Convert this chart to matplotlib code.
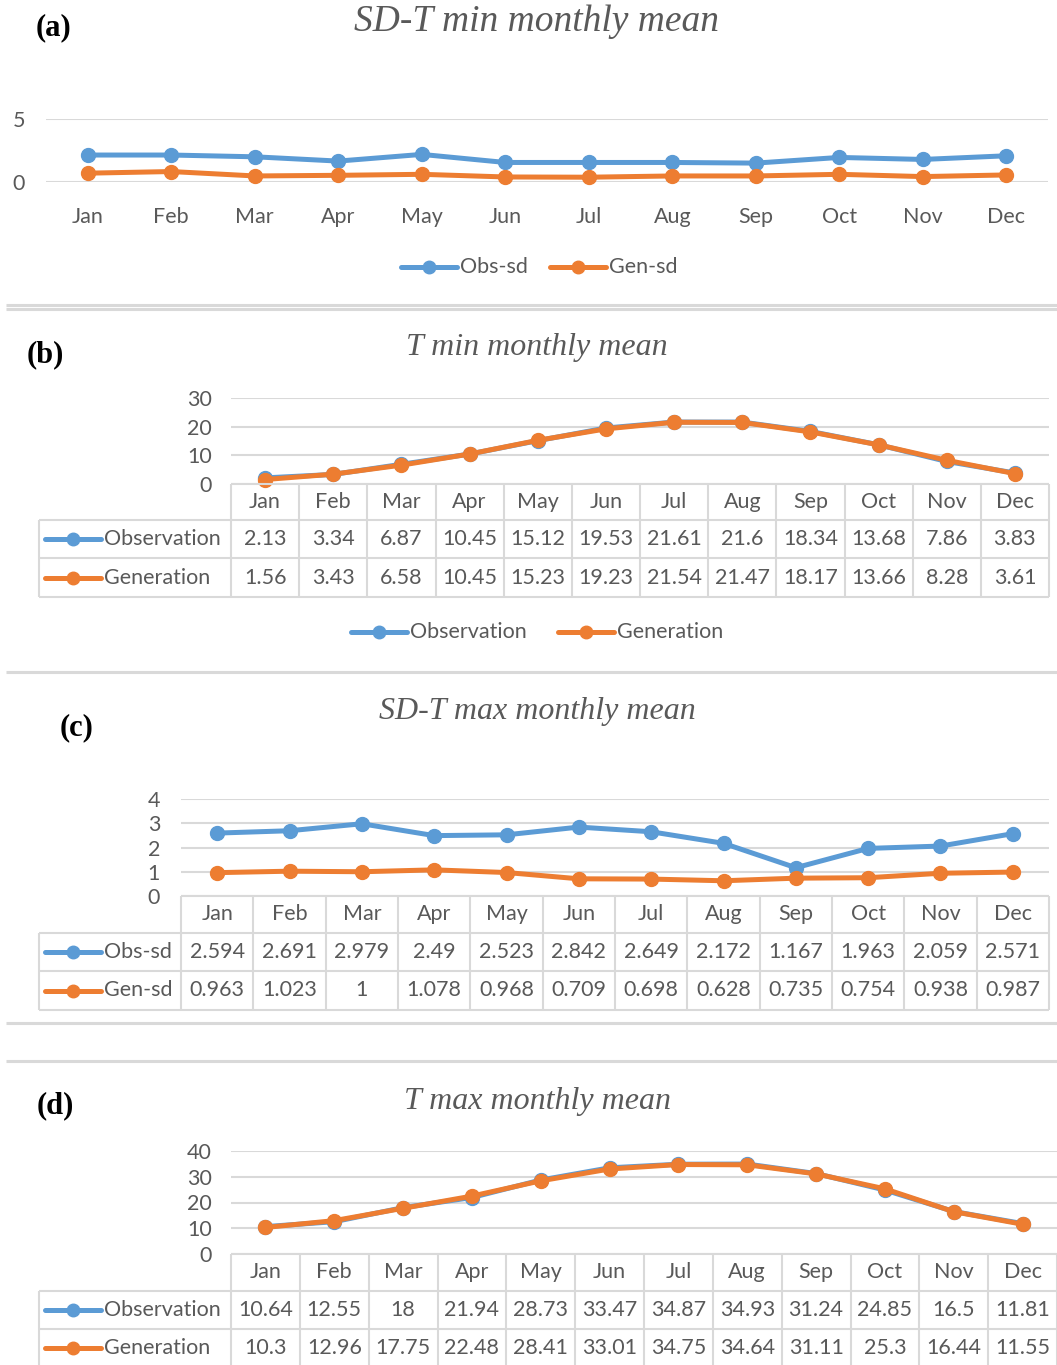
import numpy as np
import matplotlib
matplotlib.use('Agg')
import matplotlib.pyplot as plt

W, H = 1057, 1365

months = ['Jan', 'Feb', 'Mar', 'Apr', 'May', 'Jun', 'Jul', 'Aug', 'Sep', 'Oct', 'Nov', 'Dec']

# SD of daily T min, per month
sd_tmin_obs = [2.14, 2.14, 2.00, 1.66, 2.19, 1.55, 1.55, 1.55, 1.50, 1.95, 1.79, 2.08]
sd_tmin_gen = [0.70, 0.83, 0.48, 0.53, 0.61, 0.40, 0.38, 0.48, 0.48, 0.61, 0.43, 0.56]

# T min monthly mean
tmin_obs = [2.13, 3.34, 6.87, 10.45, 15.12, 19.53, 21.61, 21.6, 18.34, 13.68, 7.86, 3.83]
tmin_gen = [1.56, 3.43, 6.58, 10.45, 15.23, 19.23, 21.54, 21.47, 18.17, 13.66, 8.28, 3.61]

# SD of daily T max, per month
sd_tmax_obs = [2.594, 2.691, 2.979, 2.49, 2.523, 2.842, 2.649, 2.172, 1.167, 1.963, 2.059, 2.571]
sd_tmax_gen = [0.963, 1.023, 1, 1.078, 0.968, 0.709, 0.698, 0.628, 0.735, 0.754, 0.938, 0.987]

# T max monthly mean
tmax_obs = [10.64, 12.55, 18, 21.94, 28.73, 33.47, 34.87, 34.93, 31.24, 24.85, 16.5, 11.81]
tmax_gen = [10.3, 12.96, 17.75, 22.48, 28.41, 33.01, 34.75, 34.64, 31.11, 25.3, 16.44, 11.55]

BLUE = '#5B9BD5'
ORANGE = '#ED7D31'
GRID = '#D9D9D9'
TXT = '#595959'
SANS = ['Lato', 'DejaVu Sans']
SERIF = ['Liberation Serif', 'DejaVu Serif']
FS = 15.5
LW = 3.6
MS = 10

fig = plt.figure(figsize=(W / 100, H / 100), dpi=100)

# overlay in pixel coords for tables, legends, titles
ov = fig.add_axes([0, 0, 1, 1], zorder=5)
ov.set_xlim(0, W)
ov.set_ylim(H, 0)
ov.axis('off')


def px_axes(x0, y0, x1, y1):
    return fig.add_axes([x0 / W, 1 - y1 / H, (x1 - x0) / W, (y1 - y0) / H])


def key(x, y, color, label, length=56):
    ov.plot([x, x + length], [y, y], color=color, lw=LW, solid_capstyle='round')
    ov.plot([x + length / 2], [y], 'o', color=color, ms=MS - 1)
    ov.text(x + length + 3, y, label, fontsize=FS, color=TXT, family=SANS,
            ha='left', va='center')


def line_panel(x0, y0, x1, y1, obs, gen, ymax, ystep, ylab_pad):
    ax = px_axes(x0, y0, x1, y1)
    x = np.arange(len(months))
    ax.plot(x, obs, color=BLUE, lw=LW, marker='o', ms=MS, clip_on=False, zorder=3)
    ax.plot(x, gen, color=ORANGE, lw=LW, marker='o', ms=MS, clip_on=False, zorder=4)
    ax.set_xlim(-0.5, 11.5)
    ax.set_ylim(0, ymax)
    ax.set_yticks(np.arange(0, ymax + 0.1, ystep))
    ax.grid(axis='y', color=GRID, lw=1.5)
    ax.set_axisbelow(True)
    for s in ax.spines.values():
        s.set_visible(False)
    ax.tick_params(length=0, labelsize=FS, labelcolor=TXT, pad=ylab_pad)
    for t in ax.get_yticklabels():
        t.set_family(SANS)
    ax.patch.set_alpha(0)
    return ax


def data_table(x0, x1, rows_y, obs, gen, names):
    cw = (x1 - x0) / 12
    edges = [x0 + i * cw for i in range(13)]
    top, r1, r2, r3 = rows_y
    kw = dict(color=GRID, lw=1.5, solid_capstyle='butt')
    for e in edges:
        ov.plot([e, e], [top, r3], **kw)
    ov.plot([39, 39], [r1, r3], **kw)
    for yy in (r1, r2, r3):
        ov.plot([39, x1], [yy, yy], **kw)
    ov.plot([x0, x1], [top, top], **kw)
    for i, m in enumerate(months):
        cx = x0 + (i + 0.5) * cw
        ov.text(cx, (top + r1) / 2, m, fontsize=FS, color=TXT, family=SANS,
                ha='center', va='center')
        ov.text(cx, (r1 + r2) / 2, f'{obs[i]:g}', fontsize=FS, color=TXT,
                family=SANS, ha='center', va='center')
        ov.text(cx, (r2 + r3) / 2, f'{gen[i]:g}', fontsize=FS, color=TXT,
                family=SANS, ha='center', va='center')
    key(45, (r1 + r2) / 2, BLUE, names[0])
    key(45, (r2 + r3) / 2, ORANGE, names[1])


def heading(label, lx, ly, title, ty, tsize=23):
    ov.text(lx, ly, label, fontsize=22, fontweight='bold', family=SERIF,
            ha='left', va='center', color='black')
    ov.text(537, ty, title, fontsize=tsize, style='italic', family=SERIF,
            ha='center', va='center', color=TXT)


def separator(y):
    ov.plot([6, W], [y, y], color=GRID, lw=2.2, solid_capstyle='butt')


# (a) SD of T min
heading('(a)', 36, 28, 'SD-T min monthly mean', 22, tsize=27)
ax = line_panel(46, 119, 1048, 182, sd_tmin_obs, sd_tmin_gen, 5, 5, 15)
ax.set_xticks(np.arange(12))
ax.set_xticklabels(months, family=SANS)
ax.tick_params(axis='x', pad=18)
key(401, 267, BLUE, 'Obs-sd')
key(550, 267, ORANGE, 'Gen-sd')
separator(305)
separator(308.5)

# (b) T min
heading('(b)', 27, 355, 'T min monthly mean', 348)
ax = line_panel(231, 398, 1049, 484, tmin_obs, tmin_gen, 30, 10, 14)
ax.set_xticks([])
data_table(231, 1049, (484, 520, 558, 597), tmin_obs, tmin_gen,
           ('Observation', 'Generation'))
key(351, 632, BLUE, 'Observation')
key(558, 632, ORANGE, 'Generation')
separator(672)

# (c) SD of T max
heading('(c)', 60, 728, 'SD-T max monthly mean', 712)
ax = line_panel(181, 799, 1049, 896, sd_tmax_obs, sd_tmax_gen, 4, 1, 15)
ax.set_xticks([])
data_table(181, 1049, (896, 933, 971, 1010), sd_tmax_obs, sd_tmax_gen,
           ('Obs-sd', 'Gen-sd'))
separator(1023)
separator(1061)

# (d) T max
heading('(d)', 37, 1106, 'T max monthly mean', 1101)
ax = line_panel(231, 1151, 1057, 1254, tmax_obs, tmax_gen, 40, 10, 14)
ax.set_xticks([])
data_table(231, 1057, (1254, 1291, 1329, 1367), tmax_obs, tmax_gen,
           ('Observation', 'Generation'))

fig.savefig('out.png', dpi=100)
